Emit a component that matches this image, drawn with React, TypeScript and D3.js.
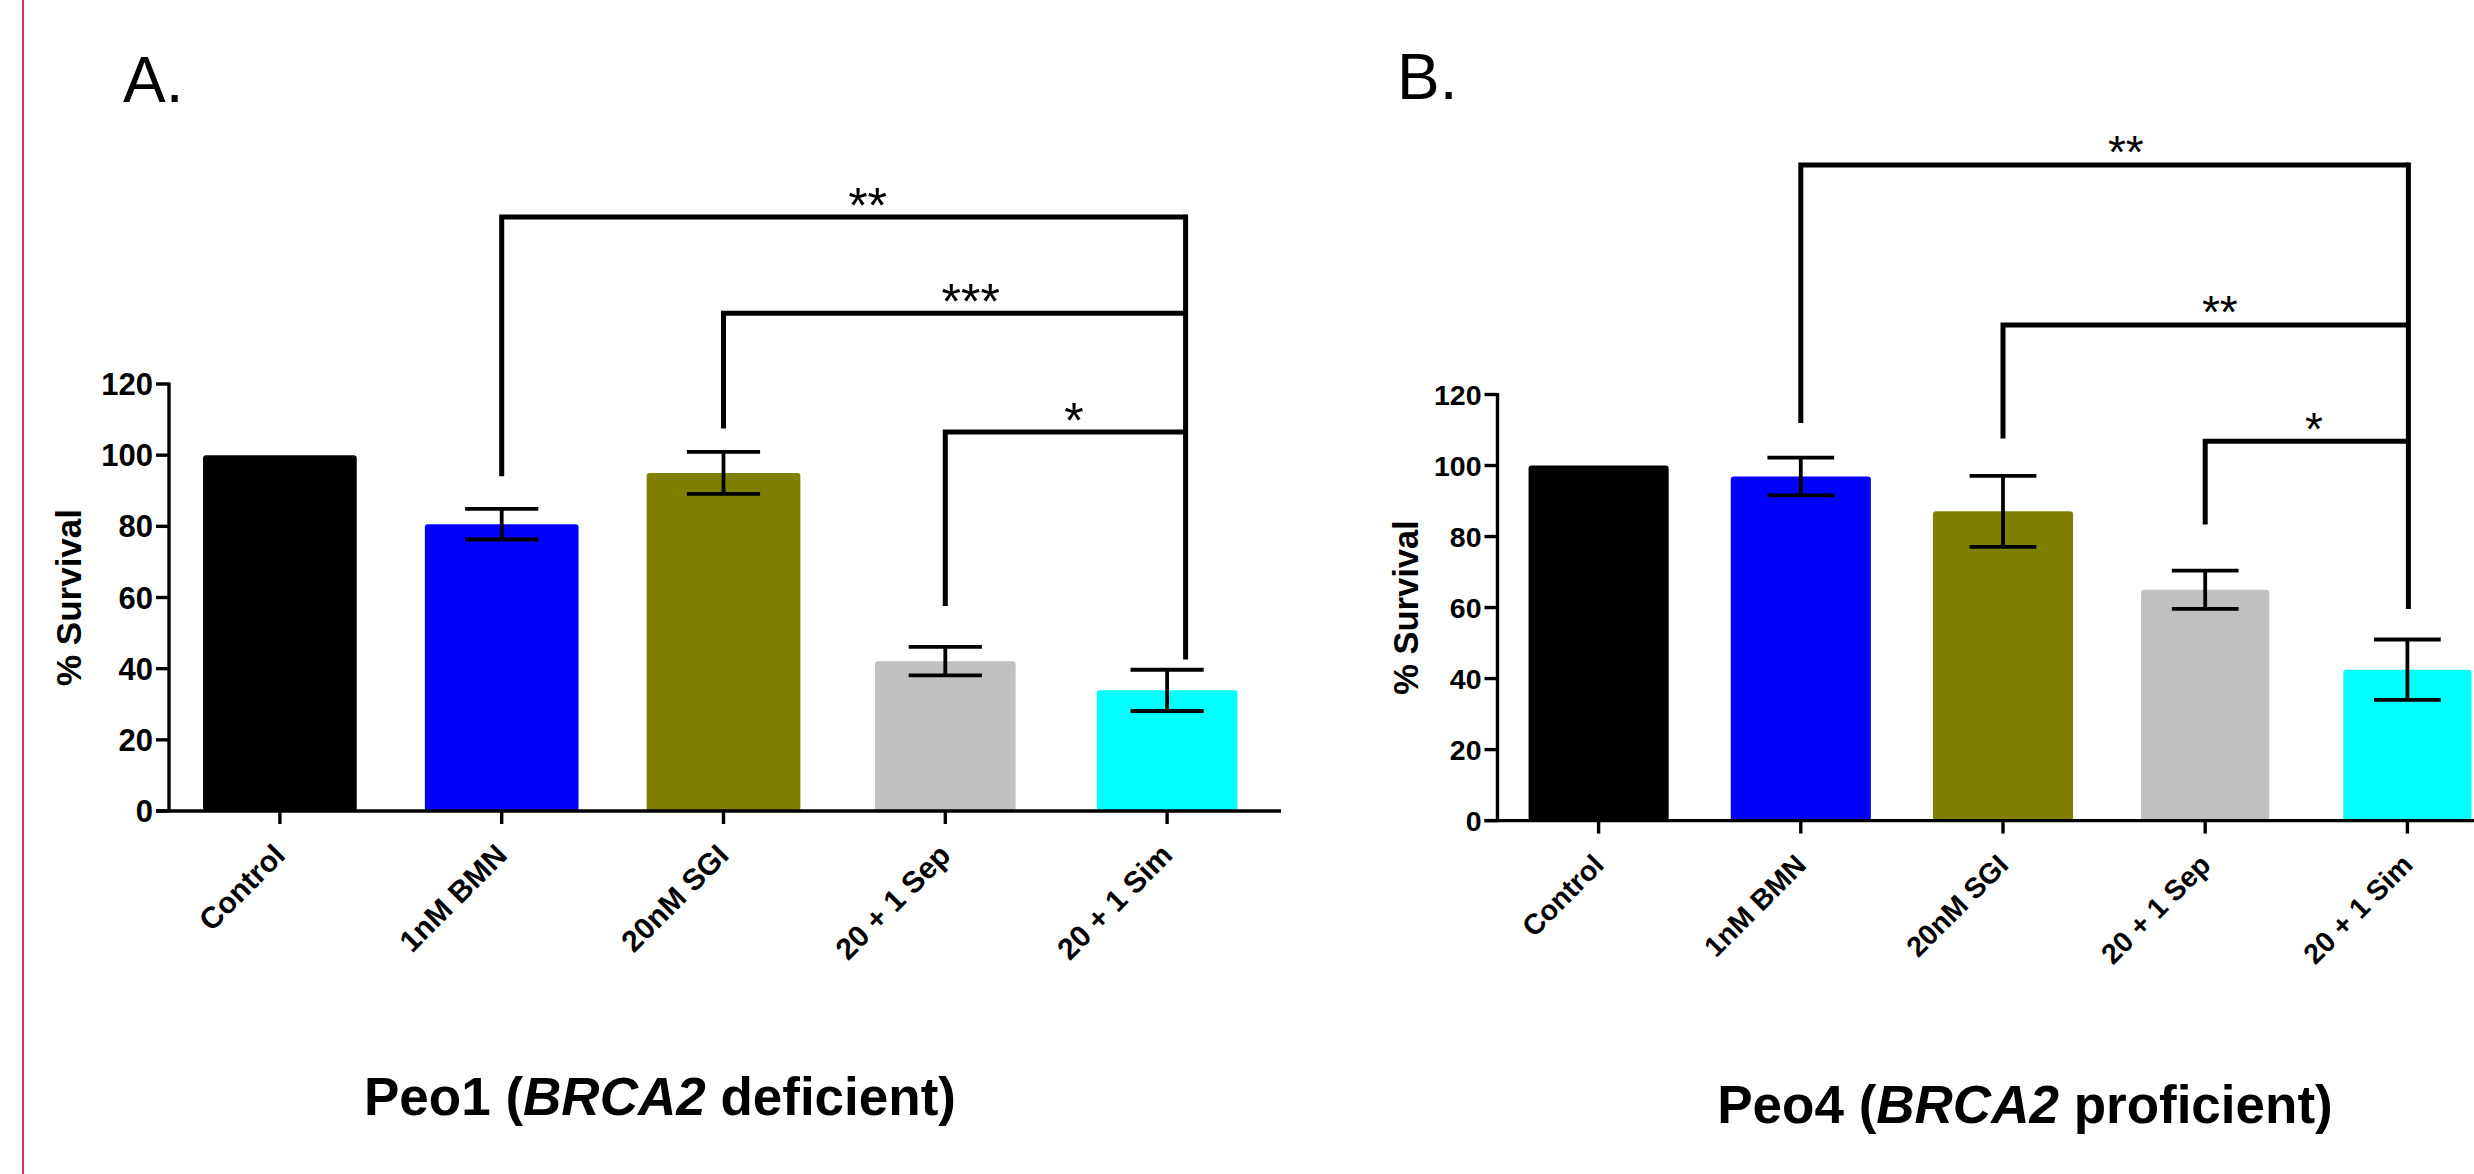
import React from "react";
import * as d3 from "d3";

// ---------- data ----------
const categories = ["Control", "1nM BMN", "20nM SGI", "20 + 1 Sep", "20 + 1 Sim"];
const barColors = ["#000000", "#0000FF", "#808000", "#C0C0C0", "#00FFFF"];
const yTicks = [0, 20, 40, 60, 80, 100, 120];

const peo1Means = [100, 80.6, 95, 42.1, 33.9];
const peo1Errors = [0, 4.3, 5.9, 4.0, 5.8];
const peo4Means = [100, 96.9, 87.1, 65, 42.5];
const peo4Errors = [0, 5.3, 10, 5.4, 8.5];

// significance comparisons: left group index, right group index, bracket level, left leg end, label
const peo1Comparisons = [
  { from: 1, to: 4, level: 166.9, legEnd: 94.1, label: "**" },
  { from: 2, to: 4, level: 139.9, legEnd: 107.5, label: "***" },
  { from: 3, to: 4, level: 106.5, legEnd: 57.6, label: "*" },
];
const peo1RightLegEnd = 42.6;
const peo4Comparisons = [
  { from: 1, to: 4, level: 184.6, legEnd: 112, label: "**" },
  { from: 2, to: 4, level: 139.6, legEnd: 107.6, label: "**" },
  { from: 3, to: 4, level: 106.8, legEnd: 83.4, label: "*" },
];
const peo4RightLegEnd = 59.6;

const panelLetters = ["A.", "B."];
const cellLines = ["Peo1", "Peo4"];
const geneName = "BRCA2";
const statuses = ["deficient", "proficient"];
const yLabel = "% Survival";

// ---------- styles / layout ----------
const FONT = "'Liberation Sans', Arial, Helvetica, sans-serif";
const barWidthFactors = [1, 1, 1, 0.915, 0.915];

const panelA = {
  xRange: [169, 1278], axisEnd: 1281, y0: 811, yTop: 384,
  tickFont: 31, catFont: 30, yLabelFont: 35, yLabelX: 81,
  titleX: 660, titleY: 1115, letterX: 123, letterY: 102,
  rightOffset: 18.5, starFont: 50,
};
const panelB = {
  xRange: [1497.5, 2508.5], axisEnd: 2520, y0: 820.6, yTop: 394.5,
  tickFont: 28.5, catFont: 28.5, yLabelFont: 34.5, yLabelX: 1418,
  titleX: 2025, titleY: 1123, letterX: 1397, letterY: 99,
  rightOffset: 1, starFont: 46,
};

type Cmp = { from: number; to: number; level: number; legEnd: number; label: string };

function Panel({ cfg, means, errors, comps, rightLegEnd, letter, cell, status }: any) {
  const x = d3.scaleBand<string>().domain(categories).range(cfg.xRange).paddingInner(0).paddingOuter(0);
  const y = d3.scaleLinear().domain([0, 120]).range([cfg.y0, cfg.yTop]);
  const bw = x.bandwidth();
  const barW = bw * 0.693;
  const capW = bw * 0.33;
  const tickLen = 13;
  const axisX = cfg.xRange[0];
  const cx = (i: number) => (x(categories[i]) as number) + bw / 2;

  const rightX = cx(4) + cfg.rightOffset;
  const topLevel = d3.max(comps as Cmp[], (c) => c.level) as number;

  return (
    <g>
      {/* panel letter */}
      <text x={cfg.letterX} y={cfg.letterY} fontFamily={FONT} fontSize={64} fill="#000">{letter}</text>

      {/* bars */}
      {means.map((m: number, i: number) => {
        const w = barW * barWidthFactors[i];
        return (
          <rect key={"b" + i} x={cx(i) - w / 2} y={y(m)} width={w} height={y(0) - y(m)}
            fill={barColors[i]} rx={3} ry={3} />
        );
      })}

      {/* error bars */}
      {means.map((m: number, i: number) => {
        const e = errors[i];
        if (!e) return null;
        const c = cx(i);
        return (
          <g key={"e" + i} stroke="#000" strokeWidth={3.8} fill="none">
            <line x1={c} x2={c} y1={y(m + e)} y2={y(m - e)} />
            <line x1={c - capW / 2} x2={c + capW / 2} y1={y(m + e)} y2={y(m + e)} />
            <line x1={c - capW / 2} x2={c + capW / 2} y1={y(m - e)} y2={y(m - e)} />
          </g>
        );
      })}

      {/* y axis */}
      <g stroke="#000" strokeWidth={3.4}>
        <line x1={axisX} x2={axisX} y1={y(120) - 1.5} y2={y(0)} />
        {yTicks.map((t) => (
          <line key={"yt" + t} x1={axisX - tickLen} x2={axisX} y1={y(t)} y2={y(t)} />
        ))}
      </g>
      {yTicks.map((t) => (
        <text key={"yl" + t} x={axisX - tickLen - 3} y={y(t)} dy="0.36em" textAnchor="end"
          fontFamily={FONT} fontWeight="bold" fontSize={cfg.tickFont} fill="#000">{t}</text>
      ))}
      <text transform={`translate(${cfg.yLabelX},${(y(0) + y(120)) / 2}) rotate(-90)`} textAnchor="middle"
        fontFamily={FONT} fontWeight="bold" fontSize={cfg.yLabelFont} fill="#000">{yLabel}</text>

      {/* x axis */}
      <g stroke="#000" strokeWidth={3.4}>
        <line x1={axisX - tickLen} x2={cfg.axisEnd} y1={y(0)} y2={y(0)} />
        {categories.map((c, i) => (
          <line key={"xt" + i} x1={cx(i)} x2={cx(i)} y1={y(0)} y2={y(0) + tickLen} />
        ))}
      </g>
      {categories.map((c, i) => (
        <text key={"xl" + i} transform={`translate(${cx(i) + 7},${y(0) + 46}) rotate(-45)`} textAnchor="end"
          fontFamily={FONT} fontWeight="bold" fontSize={cfg.catFont} fill="#000">{c}</text>
      ))}

      {/* significance brackets */}
      <g stroke="#000" strokeWidth={5} fill="none" strokeLinejoin="miter">
        {(comps as Cmp[]).map((cm, k) => (
          <path key={"br" + k} d={`M${cx(cm.from)},${y(cm.legEnd)} V${y(cm.level)} H${rightX}`} />
        ))}
        <line x1={rightX} x2={rightX} y1={y(topLevel) - 2.5} y2={y(rightLegEnd)} />
      </g>
      {(comps as Cmp[]).map((cm, k) => {
        const lx = cx(cm.from);
        const span = rightX - lx;
        const sx = lx + span / 2 + span * 0.035;
        const sy = y(cm.level) - 23 + 0.57 * cfg.starFont;
        return (
          <text key={"st" + k} x={sx} y={sy} textAnchor="middle" fontFamily={FONT}
            fontSize={cfg.starFont} fill="#000">{cm.label}</text>
        );
      })}

      {/* title */}
      <text x={cfg.titleX} y={cfg.titleY} textAnchor="middle" fontFamily={FONT} fontWeight="bold"
        fontSize={53} fill="#000">
        {cell} (<tspan fontStyle="italic">{geneName}</tspan> {status})
      </text>
    </g>
  );
}

export default function App() {
  return (
    <svg width={2474} height={1174} viewBox="0 0 2474 1174"
      style={{ position: "absolute", left: 0, top: 0, display: "block", background: "#fff" }}>
      <rect x={0} y={0} width={2474} height={1174} fill="#fff" />
      <line x1={23} x2={23} y1={0} y2={1174} stroke="#CC3366" strokeWidth={2} />
      <Panel cfg={panelA} means={peo1Means} errors={peo1Errors} comps={peo1Comparisons}
        rightLegEnd={peo1RightLegEnd} letter={panelLetters[0]} cell={cellLines[0]} status={statuses[0]} />
      <Panel cfg={panelB} means={peo4Means} errors={peo4Errors} comps={peo4Comparisons}
        rightLegEnd={peo4RightLegEnd} letter={panelLetters[1]} cell={cellLines[1]} status={statuses[1]} />
    </svg>
  );
}
